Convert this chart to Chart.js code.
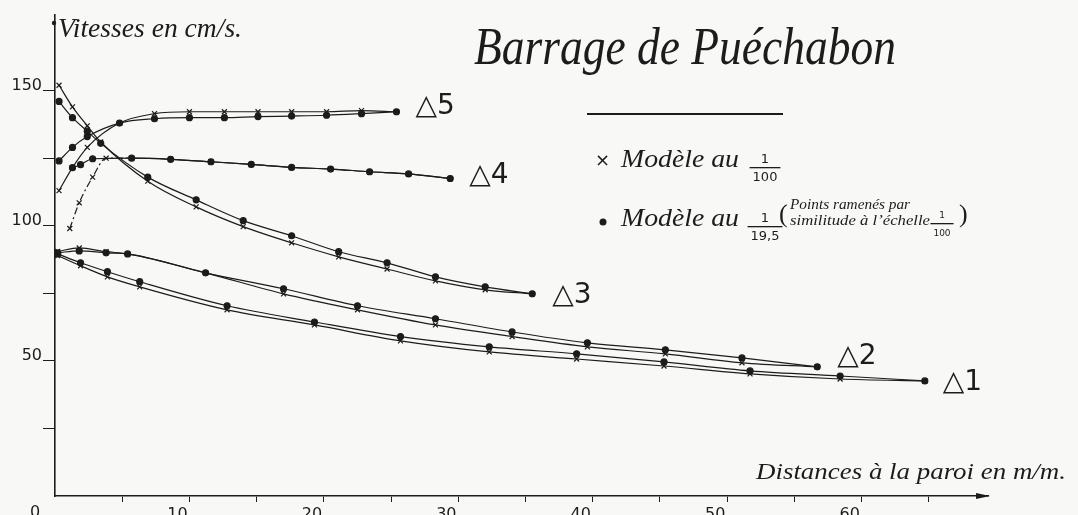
<!DOCTYPE html>
<html>
<head>
<meta charset="utf-8">
<script src="https://cdn.jsdelivr.net/npm/chart.js@4.4.1/dist/chart.umd.min.js"></script>
<style>
  html, body { margin: 0; padding: 0; background: #f8f8f6; }
  #chart { display: block; }
</style>
</head>
<body>
<canvas id="chart" width="1078" height="515"></canvas>
<script>
// distances a la paroi (m/m) and vitesses (cm/s)
// x = modele au 1/100, o = modele au 1/19.5
const d1Dist  = [0.2, 1.9, 3.9, 6.3, 12.8, 19.3, 25.7, 32.3, 38.8, 45.3, 51.7, 58.4, 64.7];
const d1Cross = [89, 85.2, 81.1, 77.4, 68.9, 63.3, 57.4, 53.3, 50.7, 48.1, 45.2, 43.3, 42.6];
const d1Dot   = [89.6, 86.3, 83, 79.3, 70.4, 64.4, 59, 55.2, 52.6, 49.6, 46.3, 44.4, 42.6];

const d2Dist  = [0.2, 1.8, 3.8, 5.4, 11.2, 17, 22.5, 28.3, 34, 39.6, 45.4, 51.1, 56.7];
const d2Cross = [90.5, 91.8, 90.4, 89.6, 82.6, 74.8, 68.9, 63.3, 59, 55.2, 52.6, 49.3, 47.8];
const d2Dot   = [90, 90.7, 90, 89.6, 82.6, 76.7, 70.4, 65.6, 60.7, 56.7, 54.1, 51.1, 47.8];

const d3Dist  = [0.3, 1.3, 2.4, 3.4, 6.9, 10.5, 14, 17.6, 21.1, 24.7, 28.3, 32, 35.5];
const d3Cross = [152, 144, 137, 131, 116.5, 107, 99.7, 93.7, 88.5, 84, 79.6, 76.3, 74.8];
const d3Dot   = [146, 140, 135, 130.5, 118, 109.6, 101.9, 96.3, 90.4, 86.3, 81.1, 77.4, 74.8];

const d4CrossDist = [1.1, 1.8, 2.8, 3.8, 5.7, 8.6, 11.6, 14.6, 17.6, 20.5, 23.4, 26.3, 29.4];
const d4Cross     = [99, 108.5, 118, 125, 125, 124.6, 123.7, 122.7, 121.6, 121, 120, 119.2, 117.5];
const d4DotDist   = [1.3, 1.9, 2.8, 5.7, 8.6, 11.6, 14.6, 17.6, 20.5, 23.4, 26.3, 29.4];
const d4Dot       = [121.5, 122.6, 124.8, 125, 124.6, 123.7, 122.7, 121.6, 121, 120, 119.2, 117.5];

const d5Dist  = [0.3, 1.3, 2.4, 4.8, 7.4, 10, 12.6, 15.1, 17.6, 20.2, 22.8, 25.4];
const d5Cross = [113, 121.5, 129, 138, 141.5, 142.2, 142.2, 142.2, 142.2, 142.2, 142.6, 142.2];
const d5Dot   = [124, 129, 133, 138, 139.6, 140, 140, 140.4, 140.6, 140.9, 141.5, 142.2];

const curveLabels = ['\u25B31', '\u25B32', '\u25B33', '\u25B34', '\u25B35'];

const ink = '#1c1c1c';
const script = '"Liberation Serif"';

function series(dist, vals, style, dashUntil) {
    const ds = {
        data: dist.map((x, i) => ({ x: x, y: vals[i] })),
        showLine: true,
        borderColor: ink,
        borderWidth: 1.2,
        cubicInterpolationMode: 'monotone',
        pointStyle: style,
        pointRadius: style === 'circle' ? 3 : 3.5,
        pointBackgroundColor: ink,
        pointBorderColor: ink,
        pointBorderWidth: 1.2,
        clip: false
    };
    if (dashUntil) {
        ds.segment = { borderDash: c => c.p1DataIndex <= dashUntil ? [7, 3, 2, 3] : undefined };
    }
    return ds;
}

// fit a text into a given width, left aligned (optional vertical stretch)
function fitText(ctx, text, x, y, w, font, sy) {
    ctx.font = font;
    const m = ctx.measureText(text).width;
    ctx.save();
    ctx.translate(x, y);
    ctx.scale(w / m, sy || 1);
    ctx.fillText(text, 0, 0);
    ctx.restore();
}

function fraction(ctx, num, den, cx, y, font) {
    ctx.font = font;
    ctx.textAlign = 'center';
    ctx.fillText(num, cx, y - 7);
    ctx.fillText(den, cx, y + 11);
    const w = Math.max(ctx.measureText(num).width, ctx.measureText(den).width) + 6;
    ctx.fillRect(cx - w / 2, y, w, 1.3);
    ctx.textAlign = 'left';
}

const decorPlugin = {
    id: 'decor',
    beforeDraw(chart) {
        const c = chart.ctx;
        c.save();
        c.fillStyle = '#f8f8f6';
        c.fillRect(0, 0, chart.width, chart.height);
        c.restore();
    },
    afterDraw(chart) {
        const c = chart.ctx;
        const xs = chart.scales.x, ys = chart.scales.y;
        const left = xs.left, bottom = ys.bottom;
        c.save();
        c.fillStyle = ink;
        c.strokeStyle = ink;
        c.textBaseline = 'middle';

        // axis arrow heads
        c.beginPath();
        c.moveTo(xs.right - 12, bottom - 3);
        c.lineTo(xs.right + 2, bottom);
        c.lineTo(xs.right - 12, bottom + 3);
        c.fill();
        c.beginPath();
        c.arc(left - 1, ys.top + 8, 2.2, 0, Math.PI * 2);
        c.fill();

        // origin label
        c.font = '16px "DejaVu Sans"';
        c.fillText('0', 30, 513);

        // axis titles
        fitText(c, 'Vitesses en cm/s.', 58, 30, 184, 'italic 28px ' + script);
        fitText(c, 'Distances \u00e0 la paroi en m/m.', 756, 473, 310, 'italic 24px ' + script);

        // title
        fitText(c, 'Barrage de Pu\u00e9chabon', 474, 50, 422, 'italic 42px ' + script, 1.25);
        c.fillRect(587, 113, 196, 2);

        // legend
        c.font = '18px "DejaVu Sans"';
        c.fillText('\u00d7', 595, 161);
        fitText(c, 'Mod\u00e8le au', 621, 160, 118, 'italic 25px ' + script);
        fraction(c, '1', '100', 765, 167, '13px "DejaVu Sans"');
        c.beginPath();
        c.arc(603, 222, 3.5, 0, Math.PI * 2);
        c.fill();
        fitText(c, 'Mod\u00e8le au', 621, 219, 118, 'italic 25px ' + script);
        fraction(c, '1', '19,5', 765, 226, '13px "DejaVu Sans"');
        c.font = '26px ' + script;
        c.fillText('(', 779, 215);
        c.fillText(')', 959, 215);
        fitText(c, 'Points ramen\u00e9s par', 790, 205, 120, 'italic 15px ' + script);
        fitText(c, 'similitude \u00e0 l\u2019\u00e9chelle', 790, 221, 140, 'italic 15px ' + script);
        fraction(c, '1', '100', 942, 223, '9px "DejaVu Sans"');

        // curve labels next to each end point
        const ends = [
            [d1Dist[d1Dist.length - 1], d1Dot[d1Dot.length - 1], 18, 2],
            [d2Dist[d2Dist.length - 1], d2Dot[d2Dot.length - 1], 20, -10],
            [d3Dist[d3Dist.length - 1], d3Dot[d3Dot.length - 1], 20, 2],
            [d4DotDist[d4DotDist.length - 1], d4Dot[d4Dot.length - 1], 19, -3],
            [d5Dist[d5Dist.length - 1], d5Dot[d5Dot.length - 1], 19, -5]
        ];
        c.font = '28px "DejaVu Sans"';
        ends.forEach((e, i) => {
            const px = xs.getPixelForValue(e[0]) + e[2];
            const py = ys.getPixelForValue(e[1]) + e[3];
            c.fillText(curveLabels[i], px, py);
        });
        c.restore();
    }
};

const ctx = document.getElementById('chart').getContext('2d');

const chart = new Chart(ctx, {
    type: 'scatter',
    data: {
        datasets: [
            series(d1Dist, d1Cross, 'crossRot'),
            series(d1Dist, d1Dot, 'circle'),
            series(d2Dist, d2Cross, 'crossRot'),
            series(d2Dist, d2Dot, 'circle'),
            series(d3Dist, d3Cross, 'crossRot'),
            series(d3Dist, d3Dot, 'circle'),
            series(d4CrossDist, d4Cross, 'crossRot', 4),
            series(d4DotDist, d4Dot, 'circle'),
            series(d5Dist, d5Cross, 'crossRot'),
            series(d5Dist, d5Dot, 'circle')
        ]
    },
    options: {
        responsive: false,
        animation: false,
        layout: { padding: { top: 15, right: 90, left: 0, bottom: 0 } },
        plugins: {
            legend: { display: false },
            tooltip: { enabled: false }
        },
        scales: {
            x: {
                type: 'linear',
                min: 0,
                max: 69.4,
                afterFit: s => { s.height = 19; },
                border: { display: true, color: ink, width: 1.6 },
                grid: {
                    drawOnChartArea: false,
                    drawTicks: true,
                    tickLength: 6,
                    tickColor: c => (c.tick && c.tick.value % 5 === 0 && c.tick.value > 0) ? ink : 'rgba(0,0,0,0)'
                },
                ticks: {
                    stepSize: 5,
                    padding: 3,
                    labelOffset: -12,
                    color: ink,
                    font: { family: 'DejaVu Sans', size: 16 },
                    callback: v => (v % 10 === 0 && v > 0) ? v : ''
                }
            },
            y: {
                type: 'linear',
                min: 0,
                max: 178,
                afterFit: s => { s.width = 55; },
                border: { display: true, color: ink, width: 1.6 },
                grid: {
                    drawOnChartArea: false,
                    drawTicks: true,
                    tickLength: 12,
                    tickColor: c => (c.tick && c.tick.value % 25 === 0 && c.tick.value > 0) ? ink : 'rgba(0,0,0,0)'
                },
                ticks: {
                    stepSize: 25,
                    padding: 1,
                    labelOffset: -5,
                    color: ink,
                    font: { family: 'DejaVu Sans', size: 16 },
                    callback: v => (v % 50 === 0 && v > 0) ? v : ''
                }
            }
        }
    },
    plugins: [decorPlugin]
});
</script>
</body>
</html>
